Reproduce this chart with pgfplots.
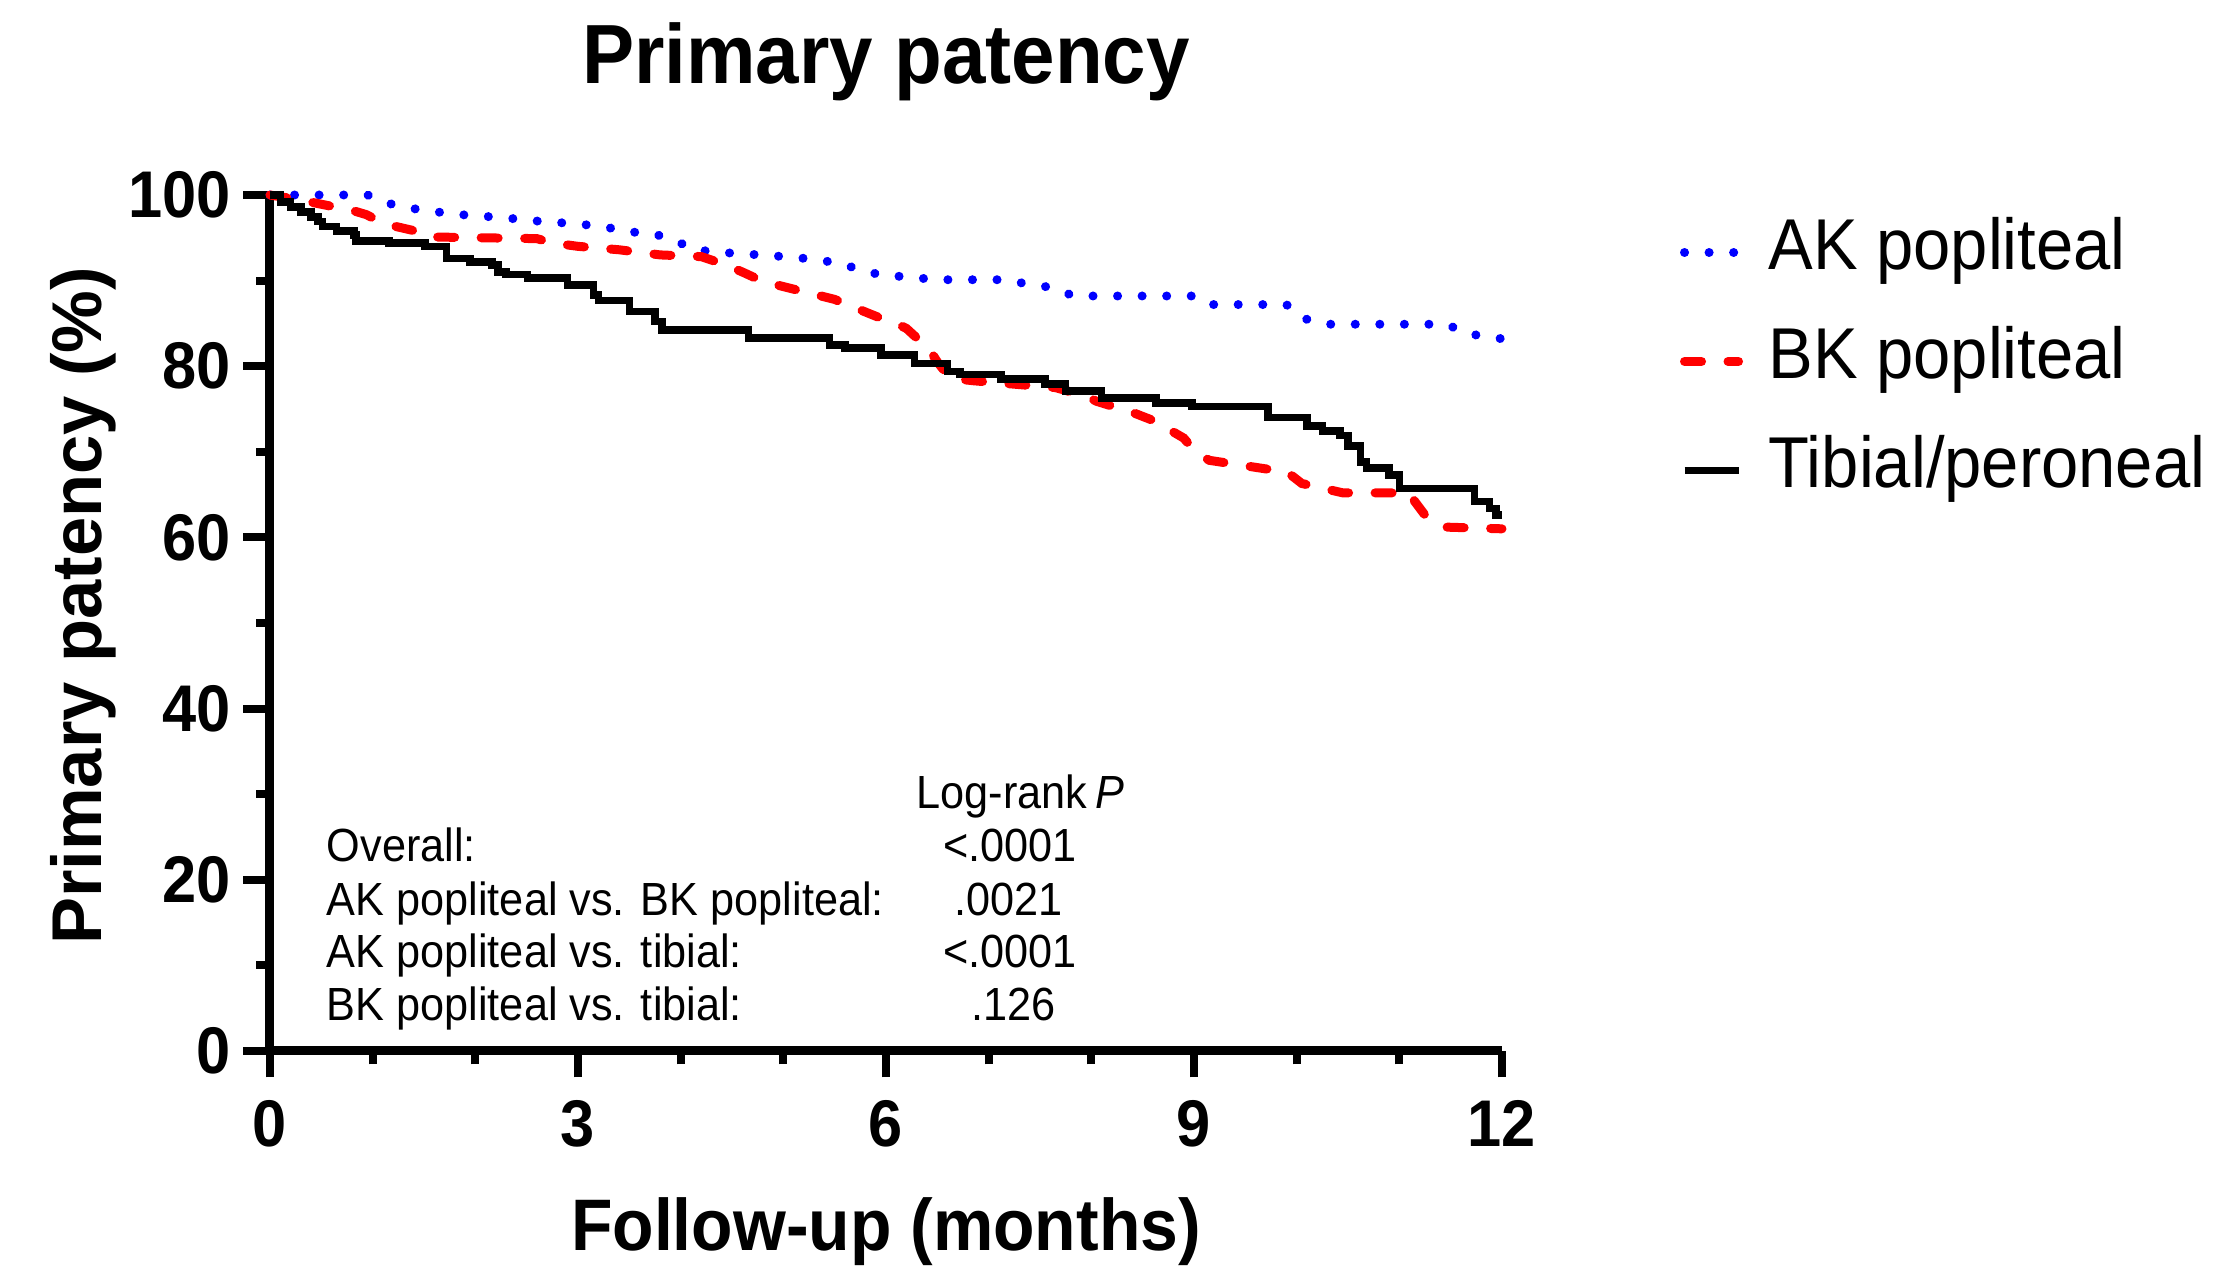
\documentclass[border=0pt]{standalone}
\usepackage{fontspec}
\setmainfont[FakeStretch=0.93]{Liberation Sans}
\newfontfamily\plainsans{Liberation Sans}
\usepackage{pgfplots}
\pgfplotsset{compat=1.18}
\definecolor{akblue}{RGB}{0,0,255}
\definecolor{bkred}{RGB}{255,0,0}

\begin{document}
\begin{tikzpicture}
\begin{axis}[
  scale only axis, width=246.4pt, height=171.2pt,
  xmin=0, xmax=12, ymin=0, ymax=100,
  axis lines=left, axis line style={-, line width=1.8pt},
  xtick={0,3,6,9,12}, ytick={0,20,...,100},
  minor x tick num=2, minor y tick num=1,
  tick align=outside, major tick length=5.3pt, minor tick length=2.7pt,
  tick style={line width=1.6pt, black},
  /pgf/number format/assume math mode=true,
  tick label style={font=\bfseries\fontsize{13.2}{15}\selectfont},
  xticklabel style={inner sep=0pt, yshift=-4.4pt},
  yticklabel style={inner sep=0pt, xshift=-2.3pt},
  xlabel={Follow-up (months)}, ylabel={Primary patency (\%)},
  xlabel style={font=\bfseries\fontsize{14.6}{16}\selectfont, inner sep=0pt,
    at={(axis description cs:0.5,-0.2336)}, anchor=base},
  ylabel style={font=\plainsans\bfseries\fontsize{14.1}{16}\selectfont, inner sep=0pt,
    at={(axis description cs:-0.1364,0.52)}, anchor=base},
  clip=false,
  legend style={at={(1.1445,0.9708)}, anchor=north west, draw=none, fill=none,
    inner sep=0pt, outer sep=0pt, row sep=8.8pt, column sep=5.1pt,
    font=\fontsize{14.4}{16}\selectfont,
    nodes={inner sep=0pt, text height=10pt, text depth=3pt}},
  legend cell align=left,
  legend image code/.code={\draw[#1] (0pt,0pt) -- (10.8pt,0pt);},
]
% AK popliteal
\addplot[akblue, line width=1.8pt, line cap=round, dash pattern=on 0.01pt off 4.9pt] coordinates {
  (0,100) (0.95,100) (1.16,99.0) (1.4,98.4) (1.64,98.0) (1.86,97.7) (2.1,97.5)
  (2.32,97.3) (2.55,97.0) (2.79,96.8) (3.01,96.6) (3.25,96.3) (3.49,95.7)
  (3.73,95.5) (3.94,94.7) (4.14,93.6) (4.38,93.3) (4.9,92.9) (5.3,92.5)
  (5.55,92.0) (5.77,91.2) (6.0,90.5) (6.2,90.5) (6.46,90.1) (7.15,90.1)
  (7.38,89.6) (7.61,89.2) (7.83,88.2) (9.02,88.2) (9.18,87.2) (9.9,87.2)
  (10.06,85.6) (10.29,84.9) (11.46,84.9) (11.66,83.8) (12,83.2) };
\addlegendentry{AK popliteal}
% BK popliteal
\addplot[bkred, line width=1.8pt, line cap=round, dash pattern=on 3.4pt off 5.3pt] coordinates {
  (0,100) (0.3,99.4) (0.55,98.8) (0.8,98.2) (0.94,97.7) (1.05,97.0) (1.16,96.5)
  (1.45,95.7) (1.55,95.1) (2.6,94.9) (2.75,94.4) (3.0,94.0) (3.4,93.6)
  (3.8,93.0) (4.2,92.8) (4.45,91.8) (4.62,90.9) (4.8,89.9) (5.2,88.7)
  (5.5,87.8) (5.62,87.2) (5.95,85.6) (6.1,85.0) (6.2,84.4) (6.3,83.3)
  (6.4,82.4) (6.5,80.5) (6.56,79.6) (6.62,78.6) (6.85,78.3) (7.25,77.9)
  (7.65,77.5) (7.95,76.5) (8.05,75.9) (8.4,74.6) (8.7,73.2) (8.8,72.3)
  (8.9,71.6) (9.0,70.2) (9.06,69.6) (9.15,69.0) (9.7,68.0) (9.9,67.7)
  (10.05,66.3) (10.45,65.2) (11.1,65.2) (11.15,64.2) (11.25,62.6)
  (11.45,61.2) (12,61.0) };
\addlegendentry{BK popliteal}
% Tibial/peroneal
\addplot[black, line width=1.5pt, const plot] coordinates {
  (0,100) (0.1,99.2) (0.2,98.6) (0.3,98.0) (0.4,97.4) (0.47,96.9) (0.51,96.3)
  (0.65,95.8) (0.82,95.3) (0.84,94.6) (1.16,94.4) (1.51,94.0) (1.72,92.6)
  (1.95,92.2) (2.16,91.8) (2.22,91.0) (2.3,90.7) (2.51,90.3) (2.9,89.5)
  (3.15,88.3) (3.2,87.7) (3.5,86.4) (3.75,85.2) (3.82,84.2) (4.66,83.3)
  (5.45,82.5) (5.6,82.1) (5.95,81.3) (6.28,80.3) (6.6,79.4) (6.72,79.0)
  (7.12,78.5) (7.55,77.9) (7.75,77.1) (8.1,76.3) (8.63,75.7) (8.98,75.3)
  (9.72,74.0) (10.1,73.0) (10.25,72.4) (10.42,71.9) (10.5,70.7) (10.62,68.8)
  (10.68,68.1) (10.9,67.3) (11.0,65.7) (11.73,64.2) (11.88,63.4) (11.94,62.6)
  (12,62.6) };
\addlegendentry{Tibial/peroneal}

\begin{scope}[every node/.style={inner sep=0pt, font=\fontsize{9.3}{11}\selectfont}]
\node[anchor=base] at (axis cs:7.31,28.3) {Log-rank\,\textit{P}};
\node[anchor=base west] at (axis cs:0.545,22.1) {Overall:};
\node[anchor=base west] at (axis cs:0.545,15.8) {AK popliteal vs. BK popliteal:};
\node[anchor=base west] at (axis cs:0.545,9.7) {AK popliteal vs. tibial:};
\node[anchor=base west] at (axis cs:0.545,3.6) {BK popliteal vs. tibial:};
\node[anchor=base] at (axis cs:7.21,22.1) {<.0001};
\node[anchor=base] at (axis cs:7.19,15.8) {.0021};
\node[anchor=base] at (axis cs:7.21,9.7) {<.0001};
\node[anchor=base] at (axis cs:7.24,3.6) {.126};
\end{scope}
\end{axis}
\node[anchor=base, inner sep=0pt, font=\bfseries\fontsize{16.8}{19}\selectfont]
  at (123.2pt,193.4pt) {Primary patency};
\path (-54pt,-43.8pt) rectangle (388.8pt,210.2pt);
\end{tikzpicture}
\end{document}
